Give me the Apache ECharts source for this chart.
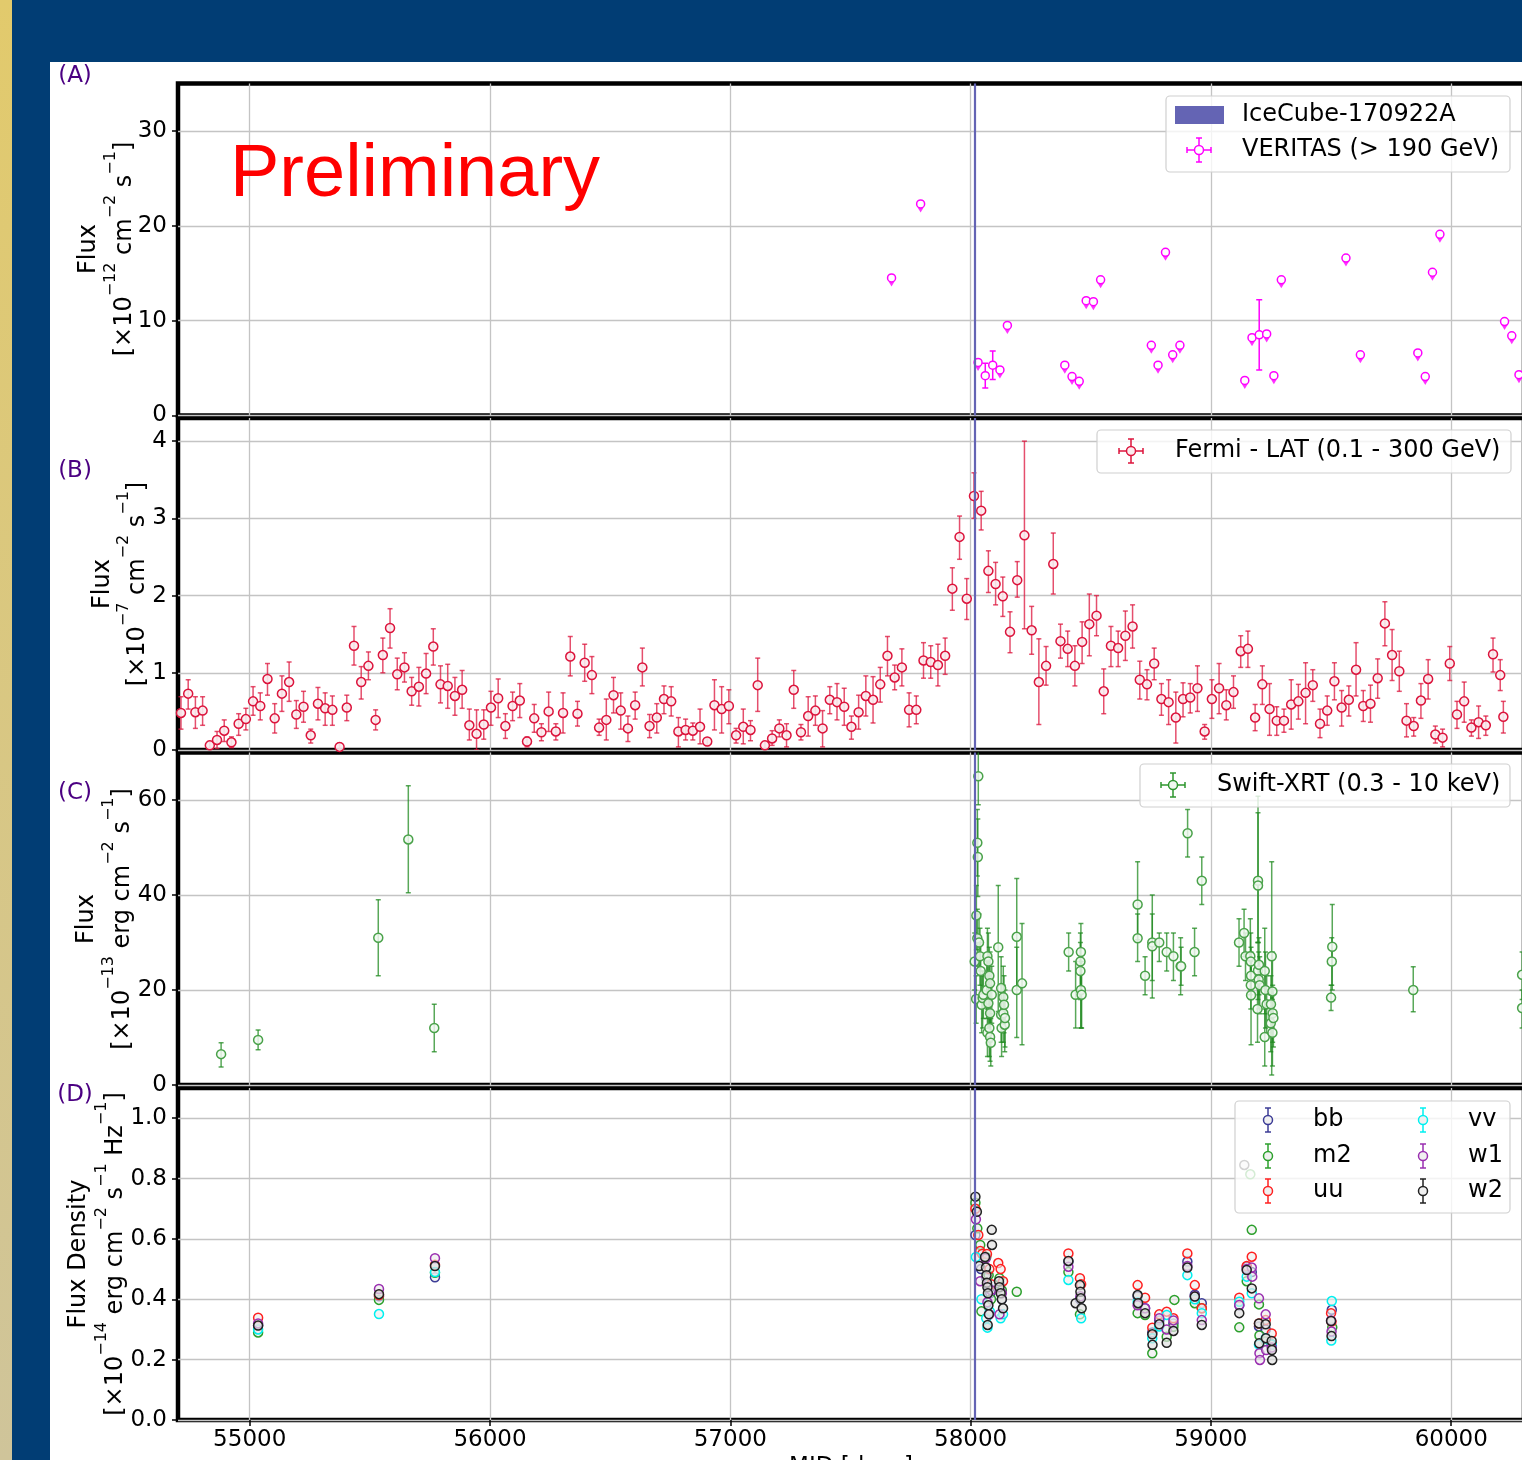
<!DOCTYPE html>
<html><head><meta charset="utf-8">
<script src="https://cdn.jsdelivr.net/npm/echarts@6/dist/echarts.min.js"></script>
<style>
html,body{margin:0;padding:0;width:1522px;height:1460px;overflow:hidden;background:#013d74;}
#gold{position:absolute;left:0;top:0;width:12px;height:1460px;background:linear-gradient(#e2ca6c,#cfc49a);}
#white{position:absolute;left:50px;top:62px;width:1472px;height:1398px;background:#fff;}
#chart{position:absolute;left:0;top:0;width:1522px;height:1460px;}
</style></head><body>
<div id="gold"></div><div id="white"></div><div id="chart"></div>
<script>
// ---------------- data ----------------
const xTicks = [55000, 56000, 57000, 58000, 59000, 60000];
const yTicksA = [0, 10, 20, 30];
const yTicksB = [0, 1, 2, 3, 4];
const yTicksC = [0, 20, 40, 60];
const yTicksD = [0, 0.2, 0.4, 0.6, 0.8, 1.0];
const icecubeMJD = 58018.9;

// VERITAS (> 190 GeV), x1e-12
const veritasMJD  = [57671,57792,58031,58061,58092,58122,58153,58392,58422,58452,58481,58511,58541,58752,58780,58811,58841,58871,59141,59171,59201,59232,59262,59293,59562,59622,59861,59892,59922,59953,60222,60252,60282];
const veritasFlux = [14.5,22.3,5.6,4.2,5.3,4.8,9.5,5.3,4.1,3.6,12.1,12.0,14.3,7.4,5.3,17.2,6.4,7.4,3.7,8.2,8.5,8.6,4.2,14.3,16.6,6.4,6.6,4.1,15.1,19.1,9.9,8.4,4.3];
const veritasErr  = [0,0,0,1.3,1.5,0,0,0,0,0,0,0,0,0,0,0,0,0,0,0,3.7,0,0,0,0,0,0,0,0,0,0,0,0];
const veritasUL   = [1,1,1,0,0,1,1,1,1,1,1,1,1,1,1,1,1,1,1,1,0,1,1,1,1,1,1,1,1,1,1,1,1];

// Fermi-LAT (0.1-300 GeV), x1e-7
const fermiMJD = [
54714,54744,54774,54804,54834,54864,54894,54924,54954,54984,
55014,55044,55074,55104,55134,55164,55194,55224,55254,55284,
55314,55344,55374,55404,55434,55464,55494,55524,55554,55584,
55614,55644,55674,55704,55734,55764,55794,55824,55854,55884,
55914,55944,55974,56004,56034,56064,56094,56124,56154,56184,
56214,56244,56274,56304,56334,56364,56394,56424,56454,56484,
56514,56544,56574,56604,56634,56664,56694,56724,56754,56784,
56814,56844,56874,56904,56934,56964,56994,57024,57054,57084,
57114,57144,57174,57204,57234,57264,57294,57324,57354,57384,
57414,57444,57474,57504,57534,57564,57594,57624,57654,57684,
57714,57744,57774,57804,57834,57864,57894,57924,57954,57984,
58014,58044,58074,58104,58134,58164,58194,58224,58254,58284,
58314,58344,58374,58404,58434,58464,58494,58524,58554,58584,
58614,58644,58674,58704,58734,58764,58794,58824,58854,58884,
58914,58944,58974,59004,59034,59064,59094,59124,59154,59184,
59214,59244,59274,59304,59334,59364,59394,59424,59454,59484,
59514,59544,59574,59604,59634,59664,59694,59724,59754,59784,
59814,59844,59874,59904,59934,59964,59994,60024,60054,60084,
60114,60144,60174,60204,60217];
const fermiFlux = [
0.48,0.73,0.49,0.51,0.06,0.13,0.25,0.10,0.34,0.40,
0.63,0.57,0.92,0.41,0.73,0.88,0.46,0.56,0.19,0.60,
0.54,0.52,0.04,0.55,1.35,0.88,1.09,0.39,1.23,1.58,
0.98,1.07,0.76,0.82,0.99,1.34,0.85,0.83,0.70,0.78,
0.32,0.21,0.33,0.55,0.67,0.31,0.57,0.64,0.11,0.41,
0.23,0.50,0.24,0.48,1.21,0.47,1.13,0.97,0.29,0.39,
0.71,0.51,0.28,0.58,1.07,0.31,0.42,0.66,0.63,0.24,
0.26,0.25,0.30,0.11,0.58,0.53,0.57,0.19,0.30,0.26,
0.84,0.06,0.15,0.28,0.19,0.78,0.23,0.44,0.51,0.28,
0.65,0.62,0.56,0.30,0.49,0.70,0.65,0.85,1.22,0.94,
1.07,0.52,0.52,1.16,1.14,1.10,1.22,2.09,2.76,1.96,
3.29,3.10,2.32,2.15,1.99,1.53,2.20,2.78,1.55,0.88,
1.09,2.41,1.41,1.31,1.09,1.40,1.63,1.74,0.76,1.35,
1.32,1.48,1.60,0.91,0.85,1.12,0.66,0.62,0.42,0.66,
0.68,0.80,0.24,0.66,0.80,0.58,0.75,1.28,1.31,0.42,
0.85,0.53,0.38,0.38,0.59,0.63,0.74,0.84,0.34,0.51,
0.89,0.55,0.65,1.04,0.57,0.60,0.93,1.64,1.23,1.02,
0.38,0.31,0.64,0.92,0.20,0.16,1.12,0.46,0.63,0.29,
0.36,0.32,1.24,0.97,0.43];
const fermiHi = [
0.69,0.91,0.69,0.69,0.11,0.24,0.39,0.17,0.47,0.54,
0.82,0.74,1.12,0.60,0.96,1.14,0.64,0.76,0.27,0.81,
0.74,0.70,0.09,0.71,1.60,1.08,1.27,0.52,1.45,1.83,
1.19,1.26,0.94,1.07,1.25,1.57,1.09,1.11,0.94,1.03,
0.53,0.52,0.52,0.76,0.92,0.47,0.75,0.86,0.17,0.59,
0.34,0.75,0.34,0.74,1.47,0.63,1.37,1.21,0.40,0.66,
0.94,0.74,0.44,0.75,1.32,0.46,0.60,0.83,0.82,0.42,
0.40,0.35,0.53,0.15,0.91,0.82,0.78,0.28,0.53,0.38,
1.19,0.11,0.25,0.39,0.34,1.03,0.33,0.69,0.70,0.51,
0.82,0.86,0.80,0.44,0.71,0.96,0.95,1.07,1.47,1.10,
1.31,0.74,0.70,1.39,1.35,1.37,1.45,2.36,3.03,2.22,
3.59,3.35,2.58,2.43,2.24,1.79,2.44,4.00,1.86,1.44,
1.34,2.81,1.63,1.54,1.35,1.66,2.02,2.00,1.05,1.60,
1.54,1.80,1.88,1.15,1.04,1.32,0.86,0.91,0.75,0.87,
0.86,1.09,0.33,0.91,1.12,0.78,0.96,1.48,1.54,0.59,
1.09,0.86,0.56,0.53,0.91,0.85,1.13,1.04,0.53,0.70,
1.13,0.77,0.83,1.39,0.77,0.84,1.18,1.92,1.56,1.28,
0.60,0.42,0.86,1.17,0.31,0.27,1.34,0.63,0.88,0.39,
0.57,0.44,1.45,1.17,0.63];
const fermiLo = [
0.27,0.53,0.28,0.32,0.02,0.02,0.11,0.03,0.19,0.26,
0.45,0.39,0.71,0.22,0.50,0.63,0.28,0.36,0.09,0.39,
0.32,0.32,0.00,0.38,1.10,0.66,0.91,0.26,1.00,1.32,
0.78,0.88,0.58,0.57,0.73,1.10,0.61,0.54,0.45,0.54,
0.13,0.00,0.14,0.32,0.42,0.15,0.38,0.42,0.04,0.23,
0.12,0.24,0.13,0.22,0.96,0.31,0.89,0.73,0.19,0.13,
0.48,0.27,0.11,0.40,0.83,0.16,0.22,0.47,0.44,0.04,
0.13,0.13,0.08,0.06,0.26,0.22,0.34,0.09,0.08,0.12,
0.50,0.02,0.06,0.17,0.04,0.54,0.13,0.18,0.32,0.04,
0.47,0.39,0.32,0.14,0.27,0.44,0.35,0.62,0.96,0.78,
0.83,0.30,0.34,0.93,0.93,0.83,0.98,1.81,2.47,1.69,
3.00,2.85,2.04,1.88,1.73,1.26,1.98,1.57,1.24,0.33,
0.84,2.02,1.19,1.08,0.83,1.12,1.22,1.48,0.47,1.08,
1.08,1.16,1.32,0.66,0.65,0.91,0.45,0.33,0.09,0.43,
0.48,0.50,0.14,0.41,0.47,0.39,0.54,1.07,1.07,0.25,
0.59,0.19,0.19,0.23,0.27,0.40,0.34,0.63,0.16,0.32,
0.65,0.31,0.44,0.70,0.37,0.36,0.67,1.35,0.90,0.76,
0.17,0.18,0.41,0.66,0.09,0.04,0.90,0.28,0.36,0.18,
0.15,0.19,1.01,0.77,0.22];

// Swift-XRT (0.3-10 keV), x1e-13
const swiftMJD = [54881,55035,55535,55660,55768,
58017,58023,58024,58028,58028,58030,58032,58035,58039,58042,
58046,58050,58053,58067,58070,58070,58074,58074,58078,58078,
58081,58081,58081,58084,58088,58115,58127,58127,58129,58136,
58136,58139,58142,58143,58192,58192,58214,
58408,58437,58457,58457,58459,58459,58462,
58695,58695,58726,58756,58756,58785,58816,58844,58874,58876,58903,58932,58962,
59117,59138,59144,59164,59166,59166,59167,59167,59194,59196,
59196,59196,59199,59200,59203,59224,59224,59227,59232,59249,
59250,59253,59256,59256,59257,59260,
59500,59503,59505,59842,60295,60295];
const swiftFlux = [6.5,9.5,31.0,51.7,12.0,
26.0,18.1,35.7,51.0,30.9,48.0,65.0,30.0,27.1,24.0,
16.9,18.3,19.0,20.0,27.1,11.0,26.0,17.2,23.0,12.0,
21.4,15.1,10.1,8.9,19.0,29.0,20.4,14.8,12.0,18.5,
15.1,16.9,12.7,14.1,31.2,20.0,21.4,
28.0,19.0,26.0,24.0,28.0,20.0,19.0,
38.0,30.9,23.0,30.0,29.2,30.0,28.0,27.1,25.0,25.0,53.0,28.0,43.0,
30.0,32.0,27.1,27.1,26.0,21.0,23.0,18.9,16.0,43.0,
42.0,24.1,22.2,25.3,21.0,24.0,10.1,20.0,17.0,13.0,
17.0,27.1,19.7,11.0,15.1,14.1,
18.4,26.0,29.1,20.0,23.2,16.2];
const swiftLo = [3.8,7.4,23.0,40.5,7.0,
20,13,28.5,44,25,39.7,59,24,21,18,
11,12,14,14,21,6,20,11,17,6,
15,9,5,4,13,15.5,14,9,6,12,
9,11,7,8,20,10,8.5,
24,12,20,18,12,12,12,
30.6,26,19,18.3,22,26,24,22,19,21,48,23,38,
25,27,22,19,20,16,18,8.5,9,30,
30,18,16,19,15,15,4,12,11,7,
11,2.1,12,4,9,8,
15.7,21,20,15.4,18,12];
const swiftHi = [8.9,11.6,39.0,63.0,17.0,
32,23,42,58,37,56,75,36,33,30,
23,24,24,26,33,16,32,23,29,18,
28,21,15,14,25,42,27,21,18,25,
21,23,18,20,43.5,29,34,
32,26,32,30,34,26,26,
47,36,27,40,36,32,32,32,31,29,58,33,48,
35,37,32,35,32,26,28,29,23,60.8,
57.3,30,28,31,27,33,16,28,23,19,
23,47,28,18,21,20,
21,31,38,24.9,28,20];

// Swift-UVOT flux densities, x1e-14
const bbMJD  = [55035,55538,55771,58020,58043,58065,58075,58082,58120,58130,58407,58455,58695,58726,58756,58785,58844,58902,58933,58962,59118,59149,59170,59200,59228,59253,59503];
const bbFlux = [0.313,0.41,0.473,0.613,0.50,0.47,0.44,0.42,0.45,0.40,0.525,0.40,0.41,0.37,0.29,0.33,0.32,0.525,0.415,0.387,0.38,0.508,0.49,0.31,0.30,0.25,0.365];
const m2MJD  = [55035,55538,55771,58020,58028,58040,58045,58065,58075,58085,58120,58130,58192,58407,58455,58695,58726,58756,58816,58844,58848,58933,58962,59118,59149,59164,59170,59200,59202,59228,59253,59505];
const m2Flux = [0.29,0.398,0.488,0.72,0.635,0.58,0.36,0.54,0.48,0.40,0.47,0.43,0.425,0.49,0.35,0.354,0.348,0.221,0.276,0.309,0.398,0.387,0.37,0.307,0.46,0.814,0.63,0.383,0.28,0.26,0.25,0.307];
const uuMJD  = [55035,55538,55771,58020,58032,58040,58048,58068,58078,58086,58115,58125,58135,58407,58455,58460,58695,58726,58756,58785,58816,58844,58902,58933,58962,59118,59149,59170,59200,59228,59253,59500,59502];
const uuFlux = [0.339,0.414,0.514,0.70,0.613,0.56,0.55,0.55,0.50,0.45,0.52,0.50,0.46,0.552,0.47,0.45,0.447,0.405,0.306,0.35,0.359,0.337,0.552,0.447,0.37,0.405,0.51,0.541,0.32,0.331,0.287,0.354,0.326];
const vvMJD  = [55035,55538,55771,58022,58045,58065,58070,58080,58125,58135,58407,58460,58695,58756,58785,58816,58902,58933,58962,59118,59149,59170,59200,59228,59253,59503,59501];
const vvFlux = [0.30,0.351,0.49,0.54,0.40,0.337,0.306,0.36,0.337,0.35,0.464,0.337,0.39,0.271,0.31,0.348,0.48,0.40,0.354,0.392,0.475,0.42,0.25,0.27,0.25,0.394,0.263];
const w1MJD  = [55035,55538,55771,58022,58040,58062,58070,58078,58085,58120,58130,58407,58457,58695,58726,58785,58816,58844,58902,58933,58962,59118,59149,59170,59172,59200,59202,59204,59228,59230,59253,59500,59502];
const w1Flux = [0.32,0.434,0.536,0.665,0.46,0.535,0.39,0.35,0.43,0.35,0.42,0.508,0.41,0.38,0.37,0.337,0.30,0.33,0.51,0.41,0.331,0.381,0.50,0.505,0.475,0.403,0.221,0.199,0.35,0.232,0.24,0.33,0.293];
const w2MJD  = [55035,55538,55771,58020,58026,58036,58060,58064,58066,58068,58070,58072,58074,58076,58071,58088,58089,58118,58120,58125,58130,58135,58407,58437,58455,58457,58459,58462,58695,58697,58726,58756,58757,58785,58816,58844,58902,58933,58962,59118,59139,59149,59170,59200,59201,59228,59229,59253,59254,59255,59500,59502];
const w2Flux = [0.313,0.417,0.51,0.74,0.69,0.51,0.54,0.505,0.48,0.455,0.44,0.42,0.38,0.35,0.315,0.63,0.58,0.46,0.44,0.42,0.40,0.37,0.527,0.387,0.447,0.425,0.403,0.37,0.414,0.387,0.354,0.284,0.249,0.317,0.256,0.295,0.505,0.409,0.315,0.354,0.845,0.497,0.436,0.32,0.254,0.317,0.271,0.262,0.232,0.199,0.328,0.278];

// ---------------- styling ----------------
const FONT = "'DejaVu Sans', sans-serif";
const X_MIN = 54701.6, X_MAX = 60302.9;
const GRID_LEFT = 178, GRID_W = 1346;
const panels = [
  {top: 83.5, height: 332,   max: 35,  interval: 10,  ticks: yTicksA, fmt: v => String(v)},
  {top: 418,  height: 332,   max: 4.3, interval: 1,   ticks: yTicksB, fmt: v => String(v)},
  {top: 752.5,height: 332.5, max: 70,  interval: 20,  ticks: yTicksC, fmt: v => String(v)},
  {top: 1088, height: 332,   max: 1.1, interval: 0.2, ticks: yTicksD, fmt: v => v.toFixed(1)}
];
const ICE = '#6464b4';
const FERMI = '#dc143c', VER = '#ff00ff', SWIFT = '#2e962e';
const UV = {bb:'#3c3c96', m2:'#2ca02c', uu:'#ff2020', vv:'#00f0f0', w1:'#9a2fb0', w2:'#222222'};

const grid = panels.map(p => ({left: GRID_LEFT, width: GRID_W, top: p.top, height: p.height,
  show: true, borderColor: '#000', borderWidth: 4.5, backgroundColor: 'rgba(0,0,0,0)',
  containLabel: false, outerBoundsMode: 'none'}));

const xAxis = panels.map((p, i) => ({
  gridIndex: i, type: 'value', min: X_MIN, max: X_MAX,
  axisLine: {show: false},
  axisTick: {show: i === 3, inside: false, length: 6, lineStyle: {color: '#000', width: 1.5}, customValues: xTicks},
  axisLabel: {show: i === 3, customValues: xTicks, fontSize: 23, color: '#000', fontFamily: FONT, margin: 9,
    formatter: v => String(Math.round(v))},
  splitLine: {show: true, lineStyle: {color: '#c4c4c4', width: 1.3}},
  name: i === 3 ? 'MJD [days]' : '', nameLocation: 'middle', nameGap: 36,
  nameTextStyle: {fontSize: 23, color: '#000', fontFamily: FONT}
}));
const yAxis = panels.map((p, i) => ({
  gridIndex: i, type: 'value', min: 0, max: p.max, interval: p.interval,
  axisLine: {show: false},
  axisTick: {show: true, inside: false, length: 6, lineStyle: {color: '#000', width: 1.5}, customValues: p.ticks},
  axisLabel: {customValues: p.ticks, fontSize: 23, color: '#000', fontFamily: FONT, margin: 11, formatter: p.fmt},
  splitLine: {show: true, lineStyle: {color: '#c4c4c4', width: 1.3}}
}));

function errRender(color, cap, width) {
  return function (params, api) {
    const x = api.value(0), lo = api.value(2), hi = api.value(3);
    const a = api.coord([x, hi]), b = api.coord([x, lo]);
    const st = {stroke: color, lineWidth: width};
    return {type: 'group', children: [
      {type: 'line', shape: {x1: a[0], y1: a[1], x2: b[0], y2: b[1]}, style: st},
      {type: 'line', shape: {x1: a[0] - cap, y1: a[1], x2: a[0] + cap, y2: a[1]}, style: st},
      {type: 'line', shape: {x1: b[0] - cap, y1: b[1], x2: b[0] + cap, y2: b[1]}, style: st}
    ]};
  };
}
const iceLine = {silent: true, symbol: ['none', 'none'], label: {show: false}, animation: false,
  lineStyle: {color: ICE, width: 2.2, type: 'solid', opacity: 1}, emphasis: {disabled: true},
  data: [{xAxis: icecubeMJD}]};

function markers(name, gi, mjd, flux, edge, face, size, extra) {
  return Object.assign({
    name, type: 'scatter', xAxisIndex: gi, yAxisIndex: gi, z: 3,
    symbol: 'circle', symbolSize: size,
    itemStyle: {color: face, borderColor: edge, borderWidth: 1.5, opacity: 1},
    emphasis: {disabled: true}, clip: true,
    data: mjd.map((m, k) => [m, flux[k]])
  }, extra || {});
}

// error-bar datasets
const verErrData = [];
veritasMJD.forEach((m, k) => { if (veritasErr[k] > 0) verErrData.push([m, veritasFlux[k], veritasFlux[k] - veritasErr[k], veritasFlux[k] + veritasErr[k]]); });
const verULData = [];
veritasMJD.forEach((m, k) => { if (veritasUL[k]) verULData.push([m, veritasFlux[k]]); });
const fermiErrData = fermiMJD.map((m, k) => [m, fermiFlux[k], fermiLo[k], fermiHi[k]]);
const swiftErrData = swiftMJD.map((m, k) => [m, swiftFlux[k], swiftLo[k], swiftHi[k]]);

const series = [
  // Panel A
  {type: 'custom', name: 'verErr', xAxisIndex: 0, yAxisIndex: 0, clip: true, z: 2,
   renderItem: errRender(VER, 3, 1.5), data: verErrData, markLine: iceLine},
  {type: 'scatter', name: 'verUL', xAxisIndex: 0, yAxisIndex: 0, z: 3, symbol: 'triangle', symbolRotate: 180,
   symbolSize: [6, 5], symbolOffset: [0, 6], itemStyle: {color: VER}, emphasis: {disabled: true}, data: verULData},
  markers('VERITAS (> 190 GeV)', 0, veritasMJD, veritasFlux, VER, '#ffffff', 8),
  // Panel B
  {type: 'custom', name: 'fermiErr', xAxisIndex: 1, yAxisIndex: 1, clip: true, z: 2,
   renderItem: errRender('rgba(220,20,60,0.75)', 2.5, 1.5), data: fermiErrData, markLine: iceLine},
  markers('Fermi - LAT (0.1 - 300 GeV)', 1, fermiMJD, fermiFlux, FERMI, 'rgba(250,235,238,0.9)', 9),
  // Panel C
  {type: 'custom', name: 'swiftErr', xAxisIndex: 2, yAxisIndex: 2, clip: true, z: 2,
   renderItem: errRender('rgba(34,139,34,0.75)', 2.5, 1.5), data: swiftErrData, markLine: iceLine},
  markers('Swift-XRT (0.3 - 10 keV)', 2, swiftMJD, swiftFlux, '#4aa24a', 'rgba(240,248,240,0.85)', 9),
  // Panel D
  markers('bb', 3, bbMJD, bbFlux, UV.bb, 'rgba(235,235,235,0.6)', 9, {markLine: iceLine}),
  markers('m2', 3, m2MJD, m2Flux, UV.m2, 'rgba(235,235,235,0.6)', 9),
  markers('uu', 3, uuMJD, uuFlux, UV.uu, 'rgba(235,235,235,0.6)', 9),
  markers('vv', 3, vvMJD, vvFlux, UV.vv, 'rgba(235,235,235,0.6)', 9),
  markers('w1', 3, w1MJD, w1Flux, UV.w1, 'rgba(235,235,235,0.6)', 9),
  markers('w2', 3, w2MJD, w2Flux, UV.w2, 'rgba(225,225,225,0.7)', 9)
];

// ---------------- annotations / legends ----------------
const G = [];
function text(x, y, t, o) {
  o = o || {};
  const st = {text: t, font: (o.size || 24) + 'px ' + (o.family || FONT), fill: o.color || '#000',
    textAlign: o.align || 'left', textVerticalAlign: 'middle'};
  if (o.rich) st.rich = o.rich;
  G.push({type: 'text', x: x, y: y, rotation: o.rot || 0, z: 100, style: st});
}
const SUPRICH = {
  n: {fontSize: 24, fontFamily: FONT, fill: '#000', lineHeight: 34, verticalAlign: 'bottom'},
  s: {fontSize: 16, fontFamily: FONT, fill: '#000', lineHeight: 16, verticalAlign: 'top'}
};
function box(x, y, w, h) {
  G.push({type: 'rect', z: 99, shape: {x, y, width: w, height: h, r: 4},
    style: {fill: 'rgba(255,255,255,0.8)', stroke: '#d0d0d0', lineWidth: 1.2}});
}
function ebIcon(cx, cy, color, face, horiz) {
  const s = {stroke: color, lineWidth: 1.5};
  const L = (x1, y1, x2, y2) => G.push({type: 'line', z: 100, shape: {x1, y1, x2, y2}, style: s});
  L(cx, cy - 12, cx, cy + 12); L(cx - 3, cy - 12, cx + 3, cy - 12); L(cx - 3, cy + 12, cx + 3, cy + 12);
  if (horiz) { L(cx - 12, cy, cx + 12, cy); L(cx - 12, cy - 3, cx - 12, cy + 3); L(cx + 12, cy - 3, cx + 12, cy + 3); }
  G.push({type: 'circle', z: 101, shape: {cx, cy, r: 4.5}, style: {fill: face, stroke: color, lineWidth: 1.5}});
}

// panel letters
text(75, 76, '(A)', {color: '#4b0082', size: 23, align: 'center'});
text(75, 471, '(B)', {color: '#4b0082', size: 23, align: 'center'});
text(75, 793, '(C)', {color: '#4b0082', size: 23, align: 'center'});
text(75, 1095, '(D)', {color: '#4b0082', size: 23, align: 'center'});
// axis titles
const R = Math.PI / 2;
text(89, 249, 'Flux', {rot: R, align: 'center'});
text(120, 249, '{n|[×10}{s|−12}{n| cm}{s|−2}{n| s}{s|−1}{n|]}', {rot: R, align: 'center', rich: SUPRICH});
text(103, 584, 'Flux', {rot: R, align: 'center'});
text(133, 584, '{n|[×10}{s|−7}{n| cm}{s|−2}{n| s}{s|−1}{n|]}', {rot: R, align: 'center', rich: SUPRICH});
text(87, 919, 'Flux', {rot: R, align: 'center'});
text(118, 919, '{n|[×10}{s|−13}{n| erg cm}{s|−2}{n| s}{s|−1}{n|]}', {rot: R, align: 'center', rich: SUPRICH});
text(79, 1254, 'Flux Density', {rot: R, align: 'center'});
text(111, 1254, '{n|[×10}{s|−14}{n| erg cm}{s|−2}{n| s}{s|−1}{n| Hz}{s|−1}{n|]}', {rot: R, align: 'center', rich: SUPRICH});
// Preliminary
text(230, 176, 'Preliminary', {size: 74, color: '#ff0000', family: "'Liberation Sans', Arial, sans-serif"});

// Legend A
box(1166, 96, 344, 76);
G.push({type: 'rect', z: 100, shape: {x: 1175, y: 106, width: 49, height: 18}, style: {fill: ICE}});
text(1242, 115, 'IceCube-170922A');
ebIcon(1199, 150, VER, '#ffffff', true);
text(1242, 150, 'VERITAS (> 190 GeV)');
// Legend B
box(1097, 430, 414, 43);
ebIcon(1131, 451, FERMI, 'rgba(250,235,238,1)', true);
text(1175, 451, 'Fermi - LAT (0.1 - 300 GeV)');
// Legend C
box(1140, 764, 370, 43);
ebIcon(1173, 785, SWIFT, 'rgba(240,248,240,1)', true);
text(1217, 785, 'Swift-XRT (0.3 - 10 keV)');
// Legend D
box(1235, 1101, 275, 112);
const uvLeg = [['bb', 1268, 1120], ['m2', 1268, 1156], ['uu', 1268, 1191], ['vv', 1423, 1120], ['w1', 1423, 1156], ['w2', 1423, 1191]];
uvLeg.forEach(([k, x, y]) => { ebIcon(x, y, UV[k], '#f0f0f0', false); text(x + 45, y, k); });

const chart = echarts.init(document.getElementById('chart'), null, {renderer: 'canvas'});
chart.setOption({
  animation: false,
  backgroundColor: 'rgba(0,0,0,0)',
  grid, xAxis, yAxis, series,
  graphic: {elements: G}
});
</script></body></html>
